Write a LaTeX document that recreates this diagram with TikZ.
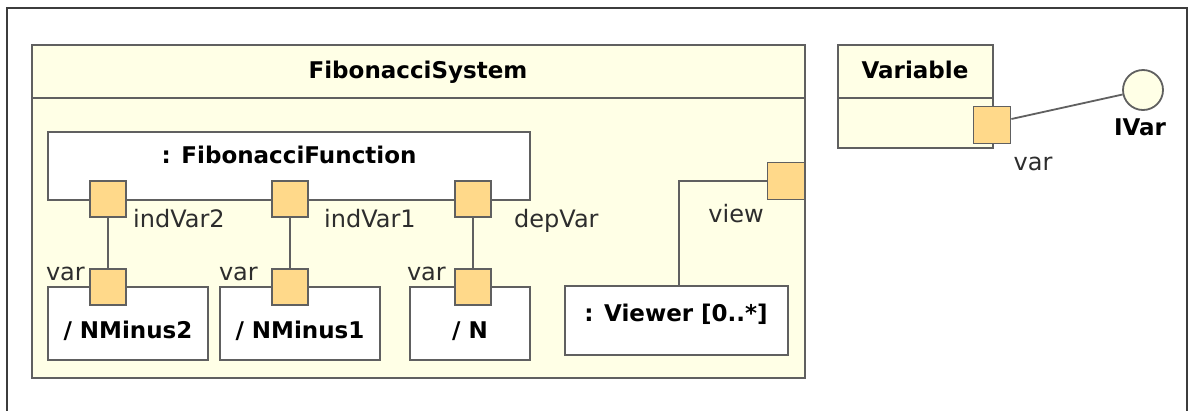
\documentclass[tikz,border=0pt]{standalone}
\usepackage{fontspec}
\setmainfont{DejaVu Sans}
\definecolor{sysfill}{RGB}{255,255,230}
\definecolor{portfill}{RGB}{255,217,138}
\definecolor{linegray}{RGB}{96,96,96}
\definecolor{framegray}{RGB}{60,60,60}
\definecolor{labelgray}{RGB}{45,45,45}
\begin{document}
\begin{tikzpicture}[x=1pt,y=-1pt,
  box/.style={draw=linegray, line width=1.8pt, rectangle, inner sep=0pt},
  port/.style={draw=linegray, line width=1.8pt, fill=portfill, rectangle, minimum size=36pt, inner sep=0pt},
  conn/.style={draw=linegray, line width=1.8pt},
  title/.style={font=\fontsize{23}{27}\selectfont\bfseries, anchor=base, inner sep=0pt, text=black},
  lbl/.style={font=\fontsize{24}{28}\selectfont, inner sep=0pt, text=labelgray}]
\useasboundingbox (0,0) rectangle (1195,410);
\fill[white] (0,0) rectangle (1195,410);
% outer frame (bottom cut off)
\draw[framegray, line width=1.6pt] (7,430) -- (7,8) -- (1187,8) -- (1187,430);
% FibonacciSystem
\node[box, fill=sysfill, minimum width=773pt, minimum height=333pt] (sys) at (418.5,211.5) {};
\draw[conn] (sys.west |- 0,98) -- (sys.east |- 0,98);
\node[title] (systitle) at (418,78) {FibonacciSystem};
% FibonacciFunction
\node[box, fill=white, minimum width=482pt, minimum height=68pt] (ff) at (289,166) {};
\node[title] (fftitle) at (289,163) {: FibonacciFunction};
% lower parts
\node[box, fill=white, minimum width=160pt, minimum height=73pt] (b1) at (128,323.5) {};
\node[box, fill=white, minimum width=160pt, minimum height=73pt] (b2) at (300,323.5) {};
\node[box, fill=white, minimum width=120pt, minimum height=73pt] (b3) at (470,323.5) {};
\node[title] (b1t) at (128,338) {/ NMinus2};
\node[title] (b2t) at (300,338) {/ NMinus1};
\node[title] (b3t) at (470,338) {/ N};
\node[box, fill=white, minimum width=223pt, minimum height=69pt] (viewer) at (676.5,320.5) {};
\node[title] (viewert) at (676,321) {: Viewer [0..*]};
% Variable
\node[box, fill=sysfill, minimum width=155pt, minimum height=103pt] (var) at (915.5,96.5) {};
\draw[conn] (var.west |- 0,98) -- (var.east |- 0,98);
\node[title] (vart) at (915,78) {Variable};
\node[draw=linegray, line width=1.8pt, fill=sysfill, circle, minimum size=40pt, inner sep=0pt] (ivar) at (1143,90) {};
\node[title] (ivart) at (1140,135) {IVar};
% ports
\node[port] (p1) at (108,199) {};
\node[port] (p2) at (290,199) {};
\node[port] (p3) at (473,199) {};
\node[port] (q1) at (108,287) {};
\node[port] (q2) at (290,287) {};
\node[port] (q3) at (473,287) {};
\node[port, minimum size=37pt] (pv) at (786,181) {};
\node[port, minimum size=37pt] (pvar) at (992,125) {};
% connectors
\draw[conn] (p1) -- (q1);
\draw[conn] (p2) -- (q2);
\draw[conn] (p3) -- (q3);
\coordinate (vc) at (679,181);
\draw[conn] (pv.west) -- (vc) -- (vc |- viewer.north);
\coordinate (pvarE) at (pvar.east |- 0,119);
\draw[conn] (pvarE) -- (ivar);
% labels
\node[lbl, anchor=base west] (l1) at (133,227) {indVar2};
\node[lbl, anchor=base west] (l2) at (324,227) {indVar1};
\node[lbl, anchor=base west] (l3) at (514,227) {depVar};
\node[lbl, anchor=base east] (v1) at (85,280) {var};
\node[lbl, anchor=base east] (v2) at (258,280) {var};
\node[lbl, anchor=base east] (v3) at (446,280) {var};
\node[lbl, anchor=base] (lv) at (736,222) {view};
\node[lbl, anchor=base] (lvar) at (1033,170) {var};
\end{tikzpicture}
\end{document}
